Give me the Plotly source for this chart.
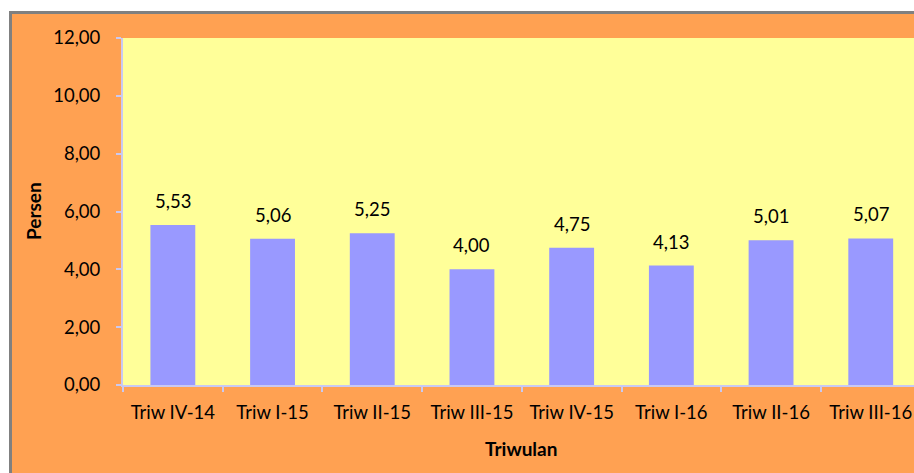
import plotly.graph_objects as go

categories = ["Triw IV-14", "Triw I-15", "Triw II-15", "Triw III-15",
              "Triw IV-15", "Triw I-16", "Triw II-16", "Triw III-16"]
values = [5.53, 5.06, 5.25, 4.00, 4.75, 4.13, 5.01, 5.07]
y_ticks = [0, 2, 4, 6, 8, 10, 12]

W, H = 914, 473
L, R, T, B = 123, 0, 38, 88
PW, PH = W - L - R, H - T - B

def px(x):
    return (x - L) / PW

def py(y):
    return 1 - (y - T) / PH

ORANGE = "#FFA152"
YELLOW = "#FFFF99"
BAR = "#9999FF"
AXIS = "#C9C9F2"
FONT = "Lato"

fig = go.Figure(go.Bar(
    x=categories, y=values, width=0.45,
    marker=dict(color=BAR, line=dict(width=0)),
    hoverinfo="skip",
))

for c, v in zip(categories, values):
    fig.add_annotation(x=c, y=v, xref="x", yref="y",
                       text=f"{v:.2f}".replace(".", ","),
                       showarrow=False, yanchor="bottom", yshift=11,
                       font=dict(family=FONT, size=18.5, color="black"))

fig.add_annotation(x=px(33), y=py(211), xref="paper", yref="paper",
                   xanchor="center", yanchor="middle",
                   text="<b>Persen</b>", textangle=-90, showarrow=False,
                   font=dict(family=FONT, size=19, color="black"))
fig.add_annotation(x=px(521), y=py(448), xref="paper", yref="paper",
                   xanchor="center", yanchor="middle",
                   text="<b>Triwulan</b>", showarrow=False,
                   font=dict(family=FONT, size=19, color="black"))

shapes = [
    dict(type="rect", xref="paper", yref="paper", x0=px(-5), x1=px(W + 5),
         y0=py(-5), y1=py(11), fillcolor="white", line=dict(width=0), layer="above"),
    dict(type="rect", xref="paper", yref="paper", x0=px(-5), x1=px(9),
         y0=py(-5), y1=py(H + 5), fillcolor="white", line=dict(width=0), layer="above"),
    dict(type="rect", xref="paper", yref="paper", x0=px(9), x1=px(W + 5),
         y0=py(11), y1=py(14), fillcolor="#808080", line=dict(width=0), layer="above"),
    dict(type="rect", xref="paper", yref="paper", x0=px(9), x1=px(12),
         y0=py(11), y1=py(H + 5), fillcolor="#808080", line=dict(width=0), layer="above"),
]

ncat_visible = PW / 99.7

fig.update_layout(
    width=W, height=H,
    margin=dict(l=L, r=R, t=T, b=B, pad=0),
    paper_bgcolor=ORANGE, plot_bgcolor=YELLOW,
    separators=",.",
    showlegend=False,
    shapes=shapes,
    font=dict(family=FONT, color="black"),
    xaxis=dict(
        type="category", range=[-0.5, -0.5 + ncat_visible],
        showline=True, linecolor=AXIS, linewidth=2,
        ticks="outside", ticklen=5, tickcolor=AXIS, tickwidth=2,
        tickson="boundaries", showgrid=False,
        tickfont=dict(family=FONT, size=18.5, color="black"),
        ticklabelstandoff=10,
    ),
    yaxis=dict(
        range=[0, 12], tickvals=y_ticks, tickformat=".2f",
        showline=True, linecolor=AXIS, linewidth=2,
        ticks="outside", ticklen=5, tickcolor=AXIS, tickwidth=2,
        showgrid=False, zeroline=False,
        tickfont=dict(family=FONT, size=18.5, color="black"),
        ticklabelstandoff=12,
    ),
)

fig.write_html(
    "out.html",
    config={"displayModeBar": False, "staticPlot": True},
    post_script="document.body.style.margin='0';document.body.style.overflow='hidden';",
)
